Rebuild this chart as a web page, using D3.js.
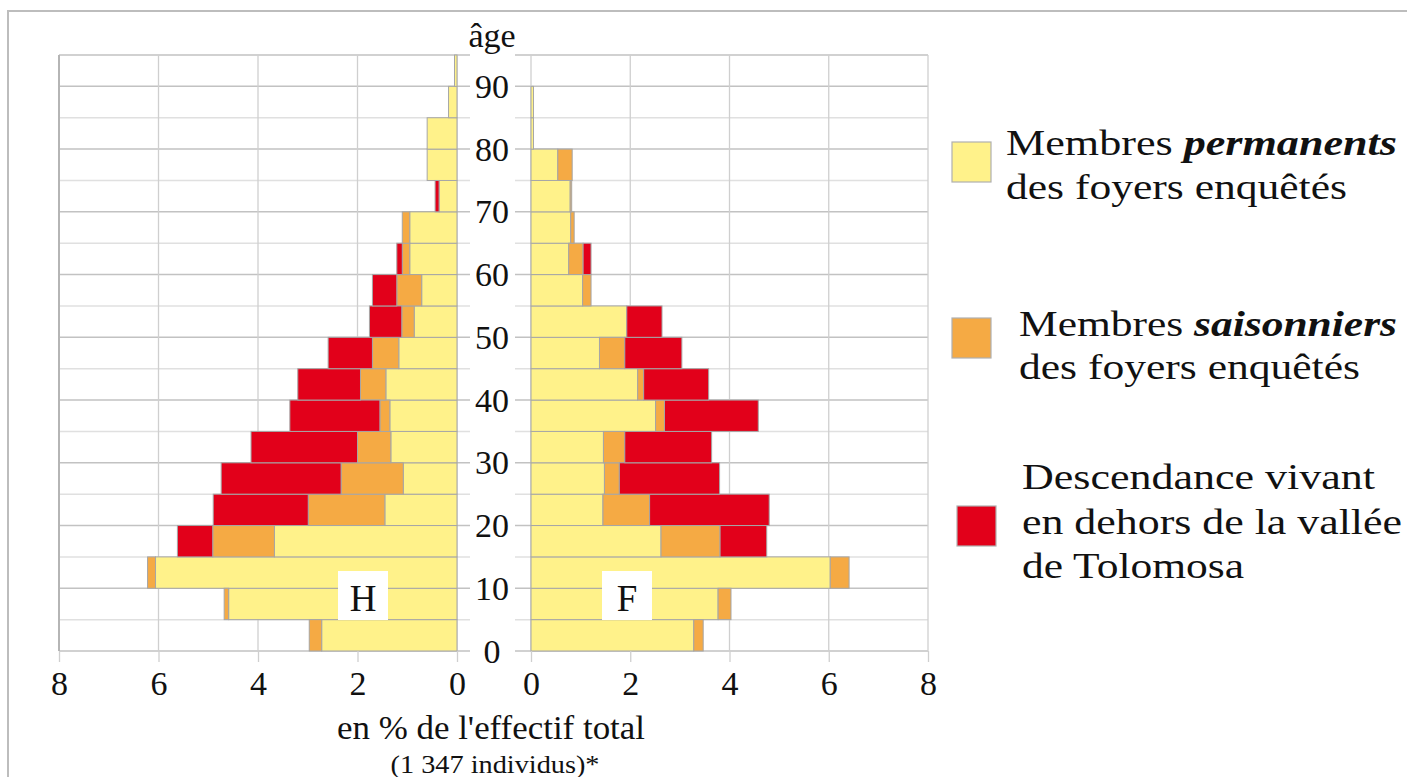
<!DOCTYPE html>
<html><head><meta charset="utf-8">
<script src="https://cdn.jsdelivr.net/npm/d3@7"></script>
<style>
html,body{margin:0;padding:0;background:#fff;}
svg{display:block;font-family:"Liberation Serif","Times New Roman",Times,serif;}
</style>
</head><body>
<svg id="chart" width="1407" height="777"></svg>
<script>
// ---- data (percent of total population, 5-year age groups) ----
const ageStarts = [0,5,10,15,20,25,30,35,40,45,50,55,60,65,70,75,80,85,90];
const hPermanent = [2.72,4.59,6.06,3.67,1.45,1.08,1.33,1.35,1.43,1.17,0.86,0.71,0.95,0.95,0.36,0.60,0.60,0.17,0.05];
const hSeasonal  = [0.25,0.09,0.16,1.24,1.54,1.25,0.67,0.20,0.51,0.53,0.25,0.50,0.15,0.15,0,0,0,0,0];
const hOutside   = [0,0,0,0.71,1.91,2.41,2.14,1.81,1.26,0.89,0.65,0.49,0.11,0,0.08,0,0,0,0];
const fPermanent = [3.28,3.77,6.03,2.62,1.45,1.48,1.46,2.51,2.15,1.38,1.93,1.04,0.76,0.80,0.79,0.54,0.05,0.05,0];
const fSeasonal  = [0.19,0.26,0.38,1.19,0.94,0.30,0.43,0.18,0.12,0.51,0,0.17,0.29,0.07,0.03,0.29,0,0,0];
const fOutside   = [0,0,0,0.94,2.41,2.02,1.75,1.89,1.31,1.15,0.71,0,0.16,0,0,0,0,0,0];
const ageTicks = [0,10,20,30,40,50,60,70,80,90];
const xTicks = [0,2,4,6,8];
const seriesKeys = ["perm","seas","out"];
const seriesColors = ["#FFF28A","#F5AA44","#E2001A"];
const legendItems = [
  {lines:[["Membres ", ["permanents"]], ["des foyers enquêtés"]]},
  {lines:[["Membres ", ["saisonniers"]], ["des foyers enquêtés"]]},
  {lines:[["Descendance vivant"], ["en dehors de la vallée"], ["de Tolomosa"]]}
];

// ---- layout ----
const svg = d3.select("#chart");
const yTop = 55, yBottom = 651;
const leftX0 = 59, leftX1 = 457, rightX0 = 531, rightX1 = 928;
const y = d3.scaleLinear().domain([0,95]).range([yBottom, yTop]);
const xL = d3.scaleLinear().domain([0,8]).range([leftX1, leftX0]);
const xR = d3.scaleLinear().domain([0,8]).range([rightX0, rightX1]);

// outer frame
svg.append("rect").attr("x",8).attr("y",11).attr("width",1500).attr("height",900)
  .attr("fill","none").attr("stroke","#bdbdbd").attr("stroke-width",2);

const grid = svg.append("g");
const minorAges = d3.range(0, 96, 5);
// horizontal lines (extend slightly toward the centre labels)
minorAges.forEach(a => {
  const major = a % 10 === 0 || a === 95;
  const col = major ? "#c2c2c2" : "#e0e0e0";
  grid.append("line").attr("x1",leftX0).attr("x2",470).attr("y1",y(a)).attr("y2",y(a))
    .attr("stroke",col).attr("stroke-width",1.5);
  grid.append("line").attr("x1",515).attr("x2",rightX1).attr("y1",y(a)).attr("y2",y(a))
    .attr("stroke",col).attr("stroke-width",1.5);
});
// vertical lines
xTicks.forEach(v => {
  grid.append("line").attr("x1",xL(v)).attr("x2",xL(v)).attr("y1",yTop).attr("y2",yBottom)
    .attr("stroke","#cfcfcf").attr("stroke-width",1.3);
  grid.append("line").attr("x1",xR(v)).attr("x2",xR(v)).attr("y1",yTop).attr("y2",yBottom)
    .attr("stroke","#cfcfcf").attr("stroke-width",1.3);
});
grid.append("line").attr("x1",leftX0).attr("x2",leftX0).attr("y1",yTop).attr("y2",yBottom)
  .attr("stroke","#b5b5b5").attr("stroke-width",2);

// ---- bars ----
const stack = d3.stack().keys(seriesKeys);
const hRows = ageStarts.map((a,i) => ({age:a, perm:hPermanent[i], seas:hSeasonal[i], out:hOutside[i]}));
const fRows = ageStarts.map((a,i) => ({age:a, perm:fPermanent[i], seas:fSeasonal[i], out:fOutside[i]}));
const hStack = stack(hRows), fStack = stack(fRows);

function drawSide(stacked, xs, isLeft) {
  const g = svg.append("g");
  stacked.forEach((layer, li) => {
    g.selectAll(null).data(layer.filter(d => d[1]-d[0] > 0)).enter().append("rect")
      .attr("x", d => isLeft ? xs(d[1]) : xs(d[0]))
      .attr("width", d => Math.abs(xs(d[1]) - xs(d[0])))
      .attr("y", d => y(d.data.age + 5))
      .attr("height", d => y(d.data.age) - y(d.data.age + 5))
      .attr("fill", seriesColors[li])
      .attr("stroke", "#a6a6a6").attr("stroke-width", 1);
  });
}
drawSide(hStack, xL, true);
drawSide(fStack, xR, false);

// ---- x axes ----
function styleAxis(g){
  g.attr("font-family","Liberation Serif, Times New Roman, serif");
  g.select(".domain").remove();
  g.selectAll(".tick line").attr("stroke","#cfcfcf").attr("stroke-width",1.3);
  g.selectAll(".tick text").attr("font-size",34).attr("fill","#111");
}
svg.append("g").attr("transform",`translate(0,${yBottom})`)
  .call(d3.axisBottom(xL).tickValues(xTicks).tickSize(11).tickPadding(9).tickFormat(d3.format("d")))
  .call(styleAxis);
svg.append("g").attr("transform",`translate(0,${yBottom})`)
  .call(d3.axisBottom(xR).tickValues(xTicks).tickSize(11).tickPadding(9).tickFormat(d3.format("d")))
  .call(styleAxis);

// ---- age labels ----
const midX = 492;
svg.append("g").selectAll("text").data(ageTicks).enter().append("text")
  .attr("x", midX).attr("y", d => y(d) + 11.5)
  .attr("text-anchor","middle").attr("font-size",34).attr("fill","#111")
  .text(d => d);
svg.append("text").attr("x",midX).attr("y",47).attr("text-anchor","middle")
  .attr("font-size",34).attr("fill","#111").text("âge");

// ---- H / F tags ----
[["H", 363], ["F", 627]].forEach(([lab, cx]) => {
  svg.append("rect").attr("x", cx-25).attr("y", 571).attr("width", 50).attr("height", 49).attr("fill","#fff");
  svg.append("text").attr("x", cx).attr("y", 611).attr("text-anchor","middle")
    .attr("font-size",37).attr("fill","#111").text(lab);
});

// ---- axis title ----
svg.append("text").attr("x",491).attr("y",739).attr("text-anchor","middle")
  .attr("font-size",33).attr("fill","#111").attr("textLength",308).attr("lengthAdjust","spacingAndGlyphs")
  .text("en % de l'effectif total");
svg.append("text").attr("x",495).attr("y",773).attr("text-anchor","middle")
  .attr("font-size",25).attr("fill","#111").attr("textLength",209).attr("lengthAdjust","spacingAndGlyphs")
  .text("(1 347 individus)*");

// ---- legend ----
const legendBoxes = [[952,142],[952,318],[957,506]];
const legendText = [
  {x:1006, ys:[155,199], widths:[391,341]},
  {x:1019, ys:[336,379], widths:[378,341]},
  {x:1022, ys:[489,534,578], widths:[353,380,222]}
];
legendItems.forEach((item, i) => {
  svg.append("rect").attr("x",legendBoxes[i][0]).attr("y",legendBoxes[i][1])
    .attr("width",39).attr("height",40).attr("fill",seriesColors[i])
    .attr("stroke","#b0b0b0").attr("stroke-width",1.2);
  item.lines.forEach((ln, j) => {
    const t = svg.append("text").attr("x",legendText[i].x).attr("y",legendText[i].ys[j])
      .attr("font-size",35).attr("fill","#111")
      .attr("textLength",legendText[i].widths[j]).attr("lengthAdjust","spacingAndGlyphs");
    ln.forEach(part => {
      if (Array.isArray(part)) t.append("tspan").attr("font-weight","bold").attr("font-style","italic").text(part[0]);
      else t.append("tspan").text(part);
    });
  });
});
</script>
</body></html>
